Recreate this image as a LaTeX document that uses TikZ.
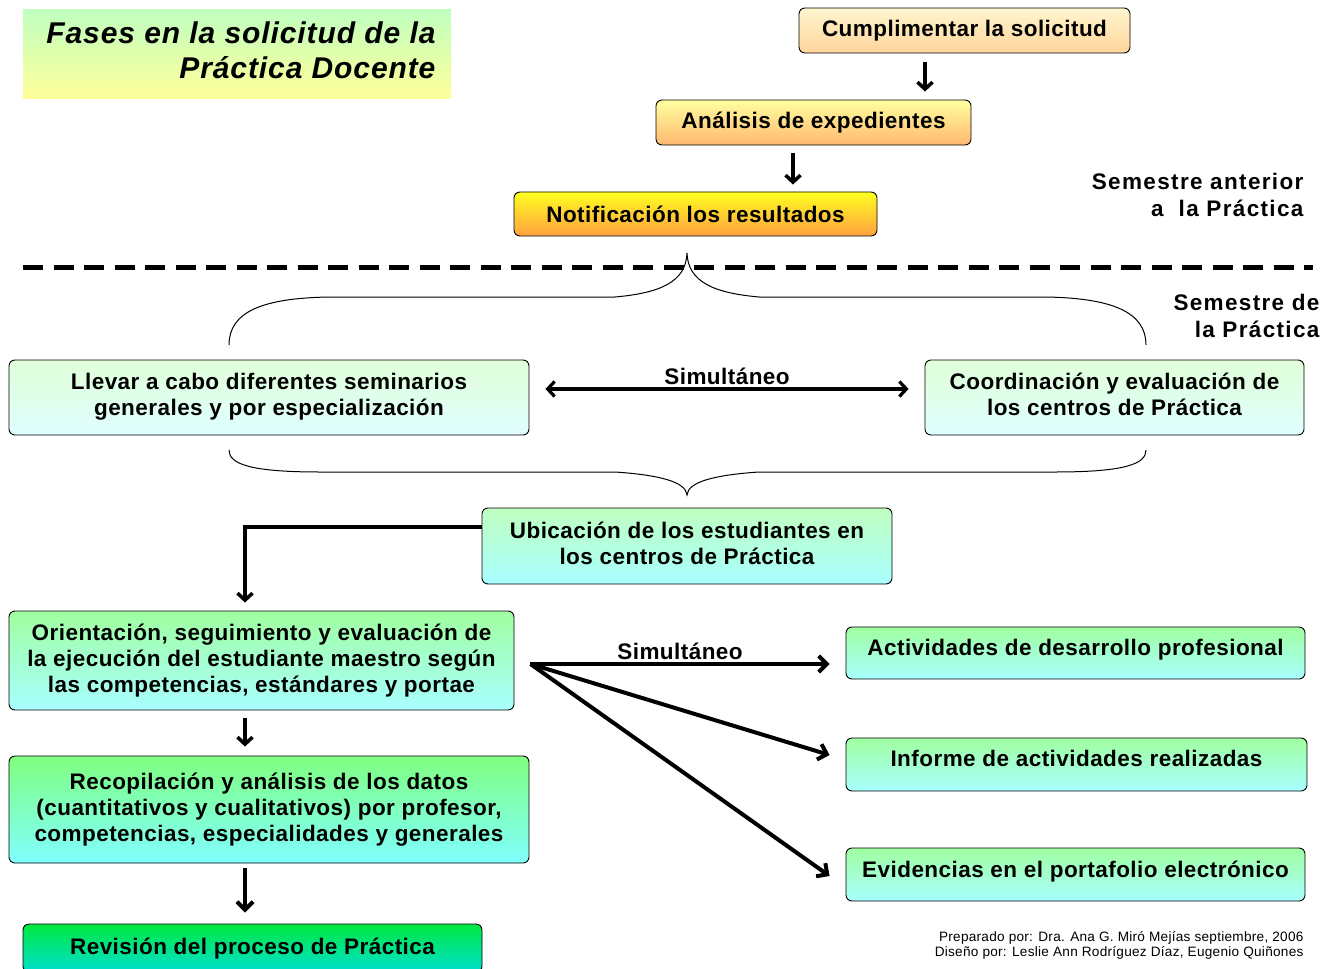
\documentclass[tikz,border=0pt]{standalone}
\usepackage{fontspec}
\setmainfont{Liberation Sans}
\newfontfamily\boxfont[LetterSpace=2]{Liberation Sans}
\newfontfamily\notefont[LetterSpace=6]{Liberation Sans}
\newfontfamily\titlefont[LetterSpace=3]{Liberation Sans}
\newfontfamily\footfont[LetterSpace=2]{Liberation Sans}
\usetikzlibrary{arrows.meta,calc}
\definecolor{tA}{HTML}{C0FFC0}\definecolor{tB}{HTML}{FFFF99}
\definecolor{aA}{HTML}{FFF6D0}\definecolor{aB}{HTML}{FFD49A}
\definecolor{bA}{HTML}{FFFFA0}\definecolor{bB}{HTML}{FFB870}
\definecolor{cA}{HTML}{FFFF20}\definecolor{cB}{HTML}{FFA040}
\definecolor{dA}{HTML}{E0FFD8}\definecolor{dB}{HTML}{E0FFFF}
\definecolor{eA}{HTML}{C0FFC0}\definecolor{eB}{HTML}{A8FFFF}
\definecolor{fA}{HTML}{A0FFA0}\definecolor{fB}{HTML}{A8FFFF}
\definecolor{gA}{HTML}{80FF80}\definecolor{gB}{HTML}{80FFFF}
\definecolor{hA}{HTML}{00E840}\definecolor{hB}{HTML}{00E0D0}
\tikzset{
  box/.style={draw, rounded corners=6pt, line width=0.9pt, inner sep=0pt, align=center,
    font=\boxfont\bfseries\fontsize{22.5}{26}\selectfont},
  arr/.style={-{Straight Barb[length=7pt,width=15pt]}, line width=3.5pt},
  arrb/.style={-{Straight Barb[length=8pt,width=16pt]}, line width=4pt},
  brace/.style={line width=1pt},
  note/.style={align=right, font=\notefont\bfseries\fontsize{22.5}{27}\selectfont},
  simlabel/.style={font=\boxfont\bfseries\fontsize{22.5}{22}\selectfont},
}
\begin{document}
\begin{tikzpicture}[x=1pt,y=-1pt]
\useasboundingbox (0,0) rectangle (1337,968);
% title
\node[top color=tA, bottom color=tB, minimum width=428pt, minimum height=89pt, inner sep=0pt] (title) at (237,54.5) {};
\node[anchor=east, align=right, font=\titlefont\bfseries\itshape\fontsize{30}{35}\selectfont] (ttext) at (439,50) {Fases en la solicitud de la\\Práctica Docente};
% top chain
\node[box, top color=aA, bottom color=aB, minimum width=331pt, minimum height=45pt] (c1) at (964.5,30.5) {Cumplimentar la solicitud};
\node[box, top color=bA, bottom color=bB, minimum width=315pt, minimum height=45pt] (c2) at (813.5,122.5) {Análisis de expedientes};
\node[box, top color=cA, bottom color=cB, minimum width=363pt, minimum height=44pt] (c3) at (695.5,214) {Notificación los resultados};
\draw[arr] ([xshift=-39.5pt,yshift=-9pt]c1.south) -- ([xshift=111.5pt,yshift=8pt]c2.north);
\draw[arr] ([xshift=-20.5pt,yshift=-8pt]c2.south) -- ([xshift=97.5pt,yshift=7pt]c3.north);
% notes
\node[note, anchor=east] (n1) at (1307,195) {Semestre anterior\\a \ la Práctica};
\node[note, anchor=east] (n2) at (1323,316) {Semestre de\\la Práctica};
% dashed line
\coordinate (dl) at (23,267);
\coordinate (dr) at (1313,267);
\draw[line width=5pt, dash pattern=on 20pt off 10.5pt] (dl) -- (dr);
% top brace
\draw[brace] (229,345) .. controls (229,312) and (262,298) .. (330,297)
  -- (615,297) .. controls (660,293) and (686,282) .. (687,253)
  .. controls (688,282) and (714,293) .. (759,297)
  -- (1045,297) .. controls (1112,298) and (1146,312) .. (1146,345);
% middle boxes
\node[box, top color=dA, bottom color=dB, minimum width=520pt, minimum height=75pt] (ll) at (269,397.5) {\raisebox{1pt}{\begin{tabular}{@{}c@{}}Llevar a cabo diferentes seminarios\\generales y por especialización\end{tabular}}};
\node[box, top color=dA, bottom color=dB, minimum width=379pt, minimum height=75pt] (co) at (1114.5,397.5) {\raisebox{3pt}{\begin{tabular}{@{}c@{}}Coordinación y evaluación de\\los centros de Práctica\end{tabular}}};
\draw[{Straight Barb[length=7pt,width=15pt]}-{Straight Barb[length=7pt,width=15pt]}, line width=3.2pt] ([xshift=16pt,yshift=8.5pt]ll.east) -- node[above=-1pt, simlabel] (sim1) {Simultáneo} ([xshift=-16pt,yshift=8.5pt]co.west);
% bottom brace
\draw[brace] (229,450) .. controls (229,464) and (250,472) .. (320,472)
  -- (615,472) .. controls (660,475) and (686,482) .. (687,495)
  .. controls (688,482) and (714,475) .. (759,472)
  -- (1055,472) .. controls (1125,472) and (1146,464) .. (1146,450);
% ubicacion
\node[box, top color=eA, bottom color=eB, minimum width=410pt, minimum height=76pt] (ub) at (687,546) {\raisebox{1.5pt}{\begin{tabular}{@{}c@{}}Ubicación de los estudiantes en\\los centros de Práctica\end{tabular}}};
% orientacion
\node[box, top color=fA, bottom color=fB, minimum width=505pt, minimum height=99pt] (or) at (261.5,660.5) {Orientación, seguimiento y evaluación de\\la ejecución del estudiante maestro según\\las competencias, estándares y portae};
\draw[arr] ([yshift=19pt]ub.west) -| ([xshift=-16.5pt,yshift=8pt]or.north);
\node[box, top color=gA, bottom color=gB, minimum width=520pt, minimum height=107pt] (re) at (269,809.5) {Recopilación y análisis de los datos\\(cuantitativos y cualitativos) por profesor,\\competencias, especialidades y generales};
\draw[arr] ([xshift=-16.5pt,yshift=-8pt]or.south) -- ([xshift=-24pt,yshift=9pt]re.north);
\node[box, top color=hA, bottom color=hB, minimum width=459pt, minimum height=48pt, text depth=0pt] (rv) at (252.5,948) {\raisebox{3pt}{Revisión del proceso de Práctica}};
\draw[arrb] ([xshift=-24pt,yshift=-5pt]re.south) -- ([xshift=-7.5pt,yshift=11pt]rv.north);
% right boxes
\node[box, top color=fA, bottom color=fB, minimum width=459pt, minimum height=52pt, text height=14pt, text depth=10pt] (ac) at (1075.5,653) {Actividades de desarrollo profesional};
\node[box, top color=fA, bottom color=fB, minimum width=461pt, minimum height=53pt, text height=14pt, text depth=10.5pt] (in) at (1076.5,764.5) {Informe de actividades realizadas};
\node[box, top color=fA, bottom color=fB, minimum width=459pt, minimum height=53pt, text height=14pt, text depth=9pt] (ev) at (1075.5,874.5) {Evidencias en el portafolio electrónico};
\coordinate (s) at ([xshift=16pt,yshift=-3.5pt]or.east);
\draw[arrb] (s) -- node[above=-1pt, simlabel] (sim2) {Simultáneo} ([xshift=-16pt,yshift=-11pt]ac.west);
\draw[arrb] (s) -- ([xshift=-16pt,yshift=9.5pt]in.west);
\draw[arrb] (s) -- ([xshift=-16pt,yshift=-1.5pt]ev.west);
% footer
\node[anchor=east, align=right, font=\footfont\fontsize{13.6}{15}\selectfont] (ft) at (1307,945.5) {Preparado por: Dra. Ana G. Miró Mejías septiembre, 2006\\Diseño por: Leslie Ann Rodríguez Díaz, Eugenio Quiñones};
\end{tikzpicture}
\end{document}
